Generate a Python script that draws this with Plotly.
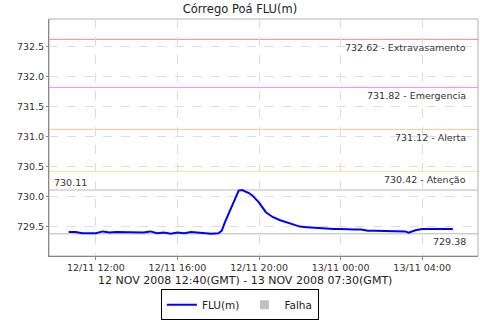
import plotly.graph_objects as go

# ---- data ----
times = [
    "2008-11-12 10:40", "2008-11-12 11:00", "2008-11-12 11:20", "2008-11-12 11:40",
    "2008-11-12 12:00", "2008-11-12 12:20", "2008-11-12 12:40", "2008-11-12 13:00",
    "2008-11-12 13:20", "2008-11-12 13:40", "2008-11-12 14:00", "2008-11-12 14:20",
    "2008-11-12 14:40", "2008-11-12 15:00", "2008-11-12 15:20", "2008-11-12 15:40",
    "2008-11-12 16:00", "2008-11-12 16:20", "2008-11-12 16:40", "2008-11-12 17:00",
    "2008-11-12 17:20", "2008-11-12 17:40", "2008-11-12 18:00", "2008-11-12 18:10",
    "2008-11-12 18:20", "2008-11-12 18:40", "2008-11-12 19:00", "2008-11-12 19:10",
    "2008-11-12 19:20", "2008-11-12 19:30", "2008-11-12 19:40", "2008-11-12 20:00",
    "2008-11-12 20:20", "2008-11-12 20:40", "2008-11-12 21:00", "2008-11-12 21:20",
    "2008-11-12 21:40", "2008-11-12 22:00", "2008-11-12 22:20", "2008-11-12 22:40",
    "2008-11-12 23:00", "2008-11-12 23:20", "2008-11-12 23:40", "2008-11-13 00:00",
    "2008-11-13 00:20", "2008-11-13 00:40", "2008-11-13 01:00", "2008-11-13 01:20",
    "2008-11-13 01:40", "2008-11-13 02:00", "2008-11-13 02:20", "2008-11-13 02:40",
    "2008-11-13 03:00", "2008-11-13 03:10", "2008-11-13 03:20", "2008-11-13 03:40",
    "2008-11-13 04:00", "2008-11-13 04:20", "2008-11-13 04:40", "2008-11-13 05:00",
    "2008-11-13 05:20", "2008-11-13 05:30",
]
flu = [
    729.41, 729.41, 729.39, 729.39,
    729.39, 729.42, 729.40, 729.41,
    729.41, 729.41, 729.41, 729.40,
    729.42, 729.39, 729.40, 729.38,
    729.40, 729.39, 729.41, 729.40,
    729.38, 729.38, 729.39, 729.43,
    729.58, 729.83, 730.10, 730.11,
    730.09, 730.06, 730.02, 729.90,
    729.74, 729.66, 729.61, 729.57,
    729.53, 729.50, 729.49, 729.48,
    729.47, 729.47, 729.46, 729.46,
    729.45, 729.45, 729.45, 729.43,
    729.43, 729.43, 729.43, 729.43,
    729.43, 729.42, 729.40, 729.44,
    729.46, 729.46, 729.46, 729.46,
    729.46, 729.46,
]
threshold_values = [732.62, 731.82, 731.12, 730.42, 730.11, 729.38]
threshold_labels = ["732.62 - Extravasamento", "731.82 - Emergencia", "731.12 - Alerta",
                    "730.42 - Atenção", "730.11", "729.38"]
title_text = "Córrego Poá FLU(m)"
xaxis_text = "12 NOV 2008 12:40(GMT) - 13 NOV 2008 07:30(GMT)"

threshold_colors = ["#f09090", "#ea90f0", "#ffc48c", "#f4e496", "#b8b8b8", "#b8b8b8"]
FONT = "DejaVu Sans"

fig = go.Figure()
fig.add_trace(go.Scatter(x=times, y=flu, mode="lines", name="FLU(m)",
                         line=dict(color="#0000ff", width=2)))
fig.add_trace(go.Scatter(x=[None], y=[None], mode="markers", name="Falha",
                         marker=dict(symbol="square", size=9, color="#c0c0c0")))

for i, (v, lab, col) in enumerate(zip(threshold_values, threshold_labels, threshold_colors)):
    fig.add_shape(type="line", xref="paper", x0=0, x1=1, yref="y", y0=v, y1=v,
                  line=dict(color=col, width=1), layer="between")
    if lab == "730.11":
        fig.add_annotation(x=0.007, xref="paper", y=v, yref="y", text=lab,
                           showarrow=False, xanchor="left", yanchor="middle", yshift=8,
                           font=dict(family=FONT, size=9.5, color="#333333"))
    else:
        fig.add_annotation(x=0.9767, xref="paper", y=v, yref="y", text=lab,
                           showarrow=False, xanchor="right", yanchor="middle", yshift=-8,
                           font=dict(family=FONT, size=9.5, color="#333333"))

# plot border
fig.add_shape(type="rect", xref="paper", yref="paper", x0=0, x1=1, y0=0, y1=1,
              line=dict(color="#b0b0b0", width=1), layer="below")

fig.add_annotation(x=0.457, xref="paper", y=-0.105, yref="paper", text=xaxis_text,
                   showarrow=False, xanchor="center", yanchor="middle",
                   font=dict(family=FONT, size=11, color="#222222"))

fig.update_layout(
    width=480, height=320,
    margin=dict(l=49, r=2, t=19, b=64, autoexpand=False),
    paper_bgcolor="white", plot_bgcolor="white",
    title=dict(text=title_text, x=0.5, xanchor="center", y=1 - 9 / 320, yanchor="middle",
               font=dict(family=FONT, size=11.5, color="#222222")),
    showlegend=True,
    legend=dict(orientation="h", x=0.445, xanchor="center", y=-0.14, yanchor="top",
                bordercolor="#000000", borderwidth=1, bgcolor="white",
                font=dict(family=FONT, size=10.5, color="#222222"),
                itemwidth=30, tracegroupgap=0),
    xaxis=dict(type="date", range=["2008-11-12 09:42", "2008-11-13 06:44"],
               tick0="2008-11-12 12:00", dtick=4 * 3600 * 1000, tickformat="%d/%m %H:%M",
               showgrid=True, gridcolor="#dddddd", griddash="dash", gridwidth=1,
               showline=True, linecolor="#888888", linewidth=1,
               ticks="outside", ticklen=3, tickcolor="#888888", automargin=False,
               tickfont=dict(family=FONT, size=9.5, color="#333333"), zeroline=False),
    yaxis=dict(range=[729.01, 732.96], dtick=0.5, tick0=729.5, tickformat=".1f",
               showgrid=True, gridcolor="#dddddd", griddash="dash", gridwidth=1,
               showline=True, linecolor="#888888", linewidth=1,
               ticks="outside", ticklen=2, tickcolor="#888888", automargin=False,
               tickfont=dict(family=FONT, size=9.5, color="#333333"), zeroline=False),
)

fig.write_html("out.html", config={"displayModeBar": False},
               post_script="document.body.style.margin='0';document.body.style.overflow='hidden';")
